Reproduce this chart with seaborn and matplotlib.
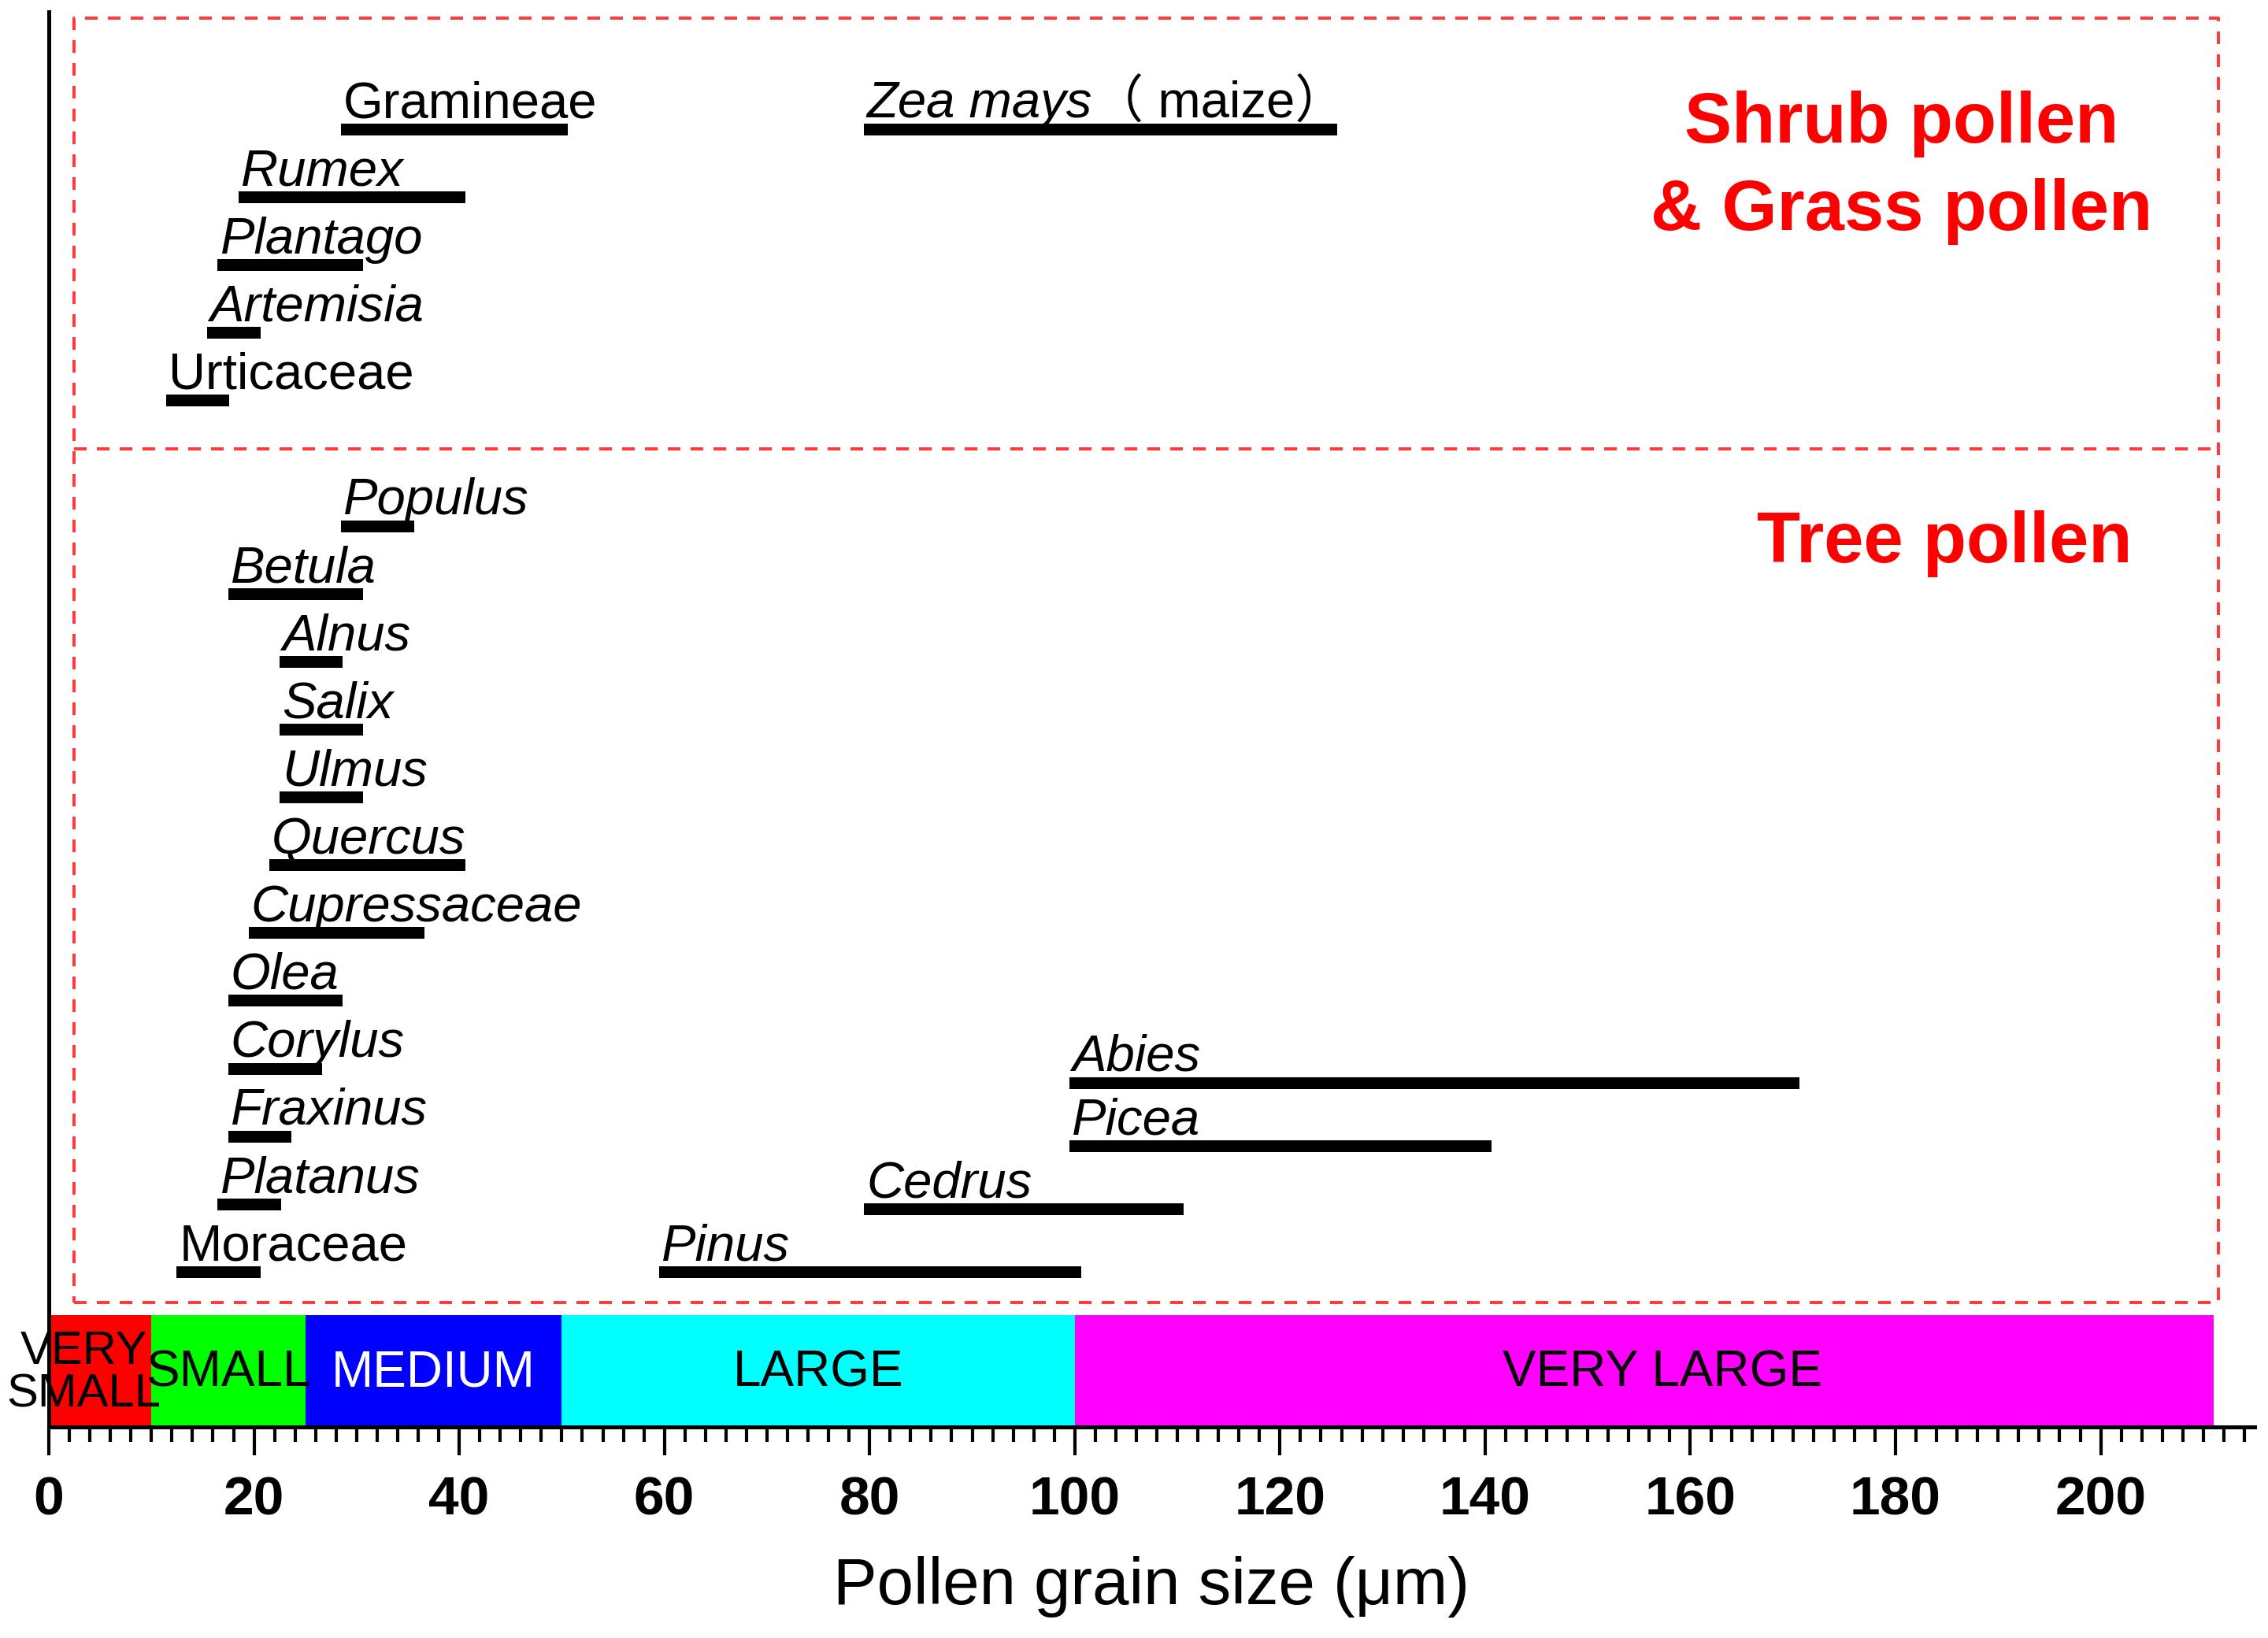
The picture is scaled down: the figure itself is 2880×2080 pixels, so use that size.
import numpy as np
import pandas as pd
import matplotlib
matplotlib.use('Agg')
import matplotlib.pyplot as plt
from matplotlib.ticker import MultipleLocator
import seaborn as sns

#%%
# size ranges in micrometres
tree_names = ['Moraceae', 'Platanus', 'Fraxinus', 'Corylus', 'Olea', 'Cupressaceae',
              'Quercus', 'Ulmus', 'Salix', 'Alnus', 'Betula', 'Populus']
tree_lo = [13, 17, 18, 18, 18, 20, 22, 23, 23, 23, 18, 29]
tree_hi = [20, 22, 23, 26, 28, 36, 40, 30, 30, 28, 30, 35]

conifer_names = ['Pinus', 'Cedrus', 'Picea', 'Abies']
conifer_lo = [60, 80, 100, 100]
conifer_hi = [100, 110, 140, 170]

shrub_names = ['Urticaceae', 'Artemisia', 'Plantago', 'Rumex', 'Gramineae', 'Zea mays']
shrub_lo = [12, 16, 17, 19, 29, 80]
shrub_hi = [17, 20, 30, 40, 50, 125]

# families are written upright, genera in italics
upright = ['Moraceae', 'Urticaceae', 'Gramineae']

size_classes = ['VERY\nSMALL', 'SMALL', 'MEDIUM', 'LARGE', 'VERY LARGE']
class_lo = [0, 10, 25, 50, 100]
class_hi = [10, 25, 50, 100, 211]
class_colors = ['#ff0000', '#00ff00', '#0000ff', '#00ffff', '#ff00ff']
class_text = ['black', 'black', 'white', 'black', 'black']

#%%
# row layout
tree_rows = np.arange(len(tree_names)) * 1.0
conifer_rows = np.arange(len(conifer_names)) * 0.93
shrub_rows = 12.85 + np.arange(len(shrub_names))
shrub_rows[-1] = shrub_rows[-2]

names = tree_names + conifer_names + shrub_names
los = tree_lo + conifer_lo + shrub_lo
his = tree_hi + conifer_hi + shrub_hi
rows = list(tree_rows) + list(conifer_rows) + list(shrub_rows)

pollen = pd.DataFrame({'name': names * 2,
                       'size': los + his,
                       'row': rows * 2})

# where the size class names sit along the band
class_label_x = [3.4, 17.5, 37.5, 75, 157.3]

#%%
sns.set_style('white')
plt.rcParams['font.family'] = ['Liberation Sans', 'DejaVu Sans']
plt.rcParams['text.color'] = 'black'
plt.rcParams['axes.labelcolor'] = 'black'
plt.rcParams['xtick.color'] = 'black'

fig = plt.figure(figsize=(28.8, 20.8), dpi=100)
ax = fig.add_axes([62 / 2880, 268 / 2080, 2801 / 2880, 1797 / 2080])

sns.lineplot(data=pollen, x='size', y='row', units='name', estimator=None,
             sort=False, color='black', lw=10.8, solid_capstyle='projecting',
             legend=False, ax=ax)

ybot, ytop = -2.29, 18.58
ax.set_xlim(0, 215)
ax.set_ylim(ybot, ytop)

# species labels sitting on top of each bar
lab_off = 0.17
zea_txt = None
for nm, lo, r in zip(names, los, rows):
    style = 'normal' if nm in upright else 'italic'
    t = ax.text(lo - 0.3, r + lab_off, nm, fontsize=47, fontstyle=style,
                color='black', ha='left', va='baseline')
    if nm == 'Zea mays':
        zea_txt = t

ax.annotate('（ maize）', xy=(1, shrub_rows[-1] + lab_off),
            xycoords=(zea_txt, 'data'), fontsize=47, color='black',
            ha='left', va='baseline',
            family=['Liberation Sans', 'Noto Sans CJK SC'])

# size class colour band
band_top = -0.64
ax.barh(y=(ybot + band_top) / 2, width=np.subtract(class_hi, class_lo),
        left=class_lo, height=band_top - ybot, color=class_colors,
        edgecolor='none', zorder=1)
for i, lab in enumerate(size_classes):
    ax.text(class_label_x[i], (ybot + band_top) / 2 - 0.03, lab,
            fontsize=43 if i == 0 else 46, color=class_text[i],
            ha='center', va='center', linespacing=1.0, zorder=3)

# dashed red boxes around the two groups
box_l, box_r, box_b, box_t, box_mid = 2.46, 211.5, -0.45, 18.49, 12.14
dash = dict(color='#ff3b3b', lw=2.9, ls=(0, (4, 3.2)), zorder=1)
ax.plot([box_l, box_r, box_r, box_l, box_l],
        [box_b, box_b, box_t, box_t, box_b], **dash)
ax.plot([box_l, box_r], [box_mid, box_mid], **dash)

ax.text(180.6, 16.28, 'Shrub pollen\n& Grass pollen', fontsize=65,
        fontweight='bold', color='#ff0000', ha='center', va='center',
        linespacing=1.4)
ax.text(184.8, 10.73, 'Tree pollen', fontsize=65, fontweight='bold',
        color='#ff0000', ha='center', va='center')

#%%
# axes styling
sns.despine(ax=ax, top=True, right=True)
for side in ['left', 'bottom']:
    ax.spines[side].set_linewidth(3.6)
    ax.spines[side].set_color('black')
ax.set_yticks([])
ax.set_xticks(range(0, 201, 20))
ax.xaxis.set_minor_locator(MultipleLocator(2))
ax.tick_params(axis='x', which='major', direction='out', length=26, width=3,
               pad=18, labelsize=50, colors='black', bottom=True)
ax.tick_params(axis='x', which='minor', direction='out', length=14, width=3,
               bottom=True)
for lbl in ax.get_xticklabels():
    lbl.set_fontweight('bold')
ax.set_xlabel('Pollen grain size (μm)', fontsize=60, labelpad=28)
ax.set_ylabel('')

plt.savefig('out.png', dpi=100)
